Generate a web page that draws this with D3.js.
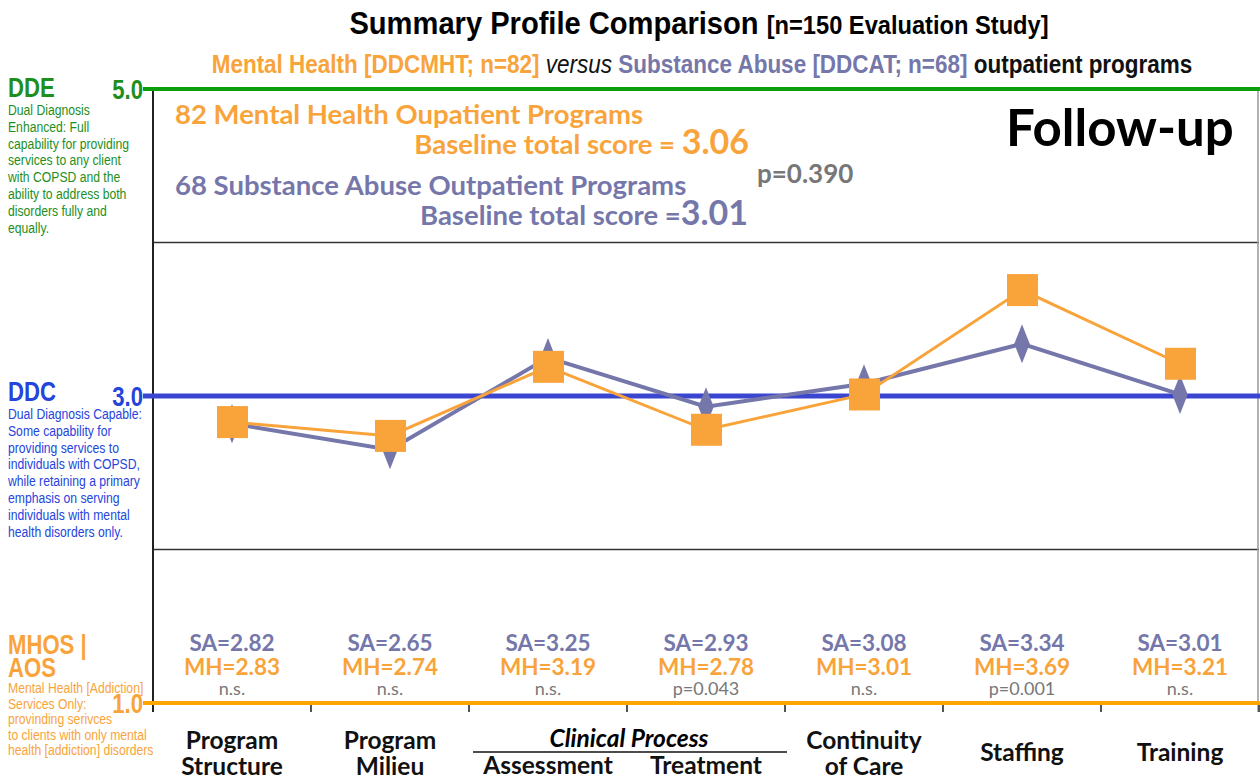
<!DOCTYPE html>
<html>
<head>
<meta charset="utf-8">
<script src="https://cdn.jsdelivr.net/npm/d3@7"></script>
<style>
  body { margin: 0; background: #fff; }
  svg { display: block; }
  .narrow { font-family: "Liberation Sans", Arial, sans-serif; }
  .cal { font-family: Lato, "Open Sans", sans-serif; }
</style>
</head>
<body>
<div id="chart"></div>
<script>
// data
const categories = ["Program Structure", "Program Milieu", "Assessment", "Treatment", "Continuity of Care", "Staffing", "Training"];
const categoryLines = [["Program", "Structure"], ["Program", "Milieu"], ["Assessment"], ["Treatment"], ["Continuity", "of Care"], ["Staffing"], ["Training"]];
const saValues = [2.82, 2.65, 3.25, 2.93, 3.08, 3.34, 3.01];
const mhValues = [2.83, 2.74, 3.19, 2.78, 3.01, 3.69, 3.21];
const pLabels = ["n.s.", "n.s.", "n.s.", "p=0.043", "n.s.", "p=0.001", "n.s."];
const levelTicks = [5, 3, 1];
const levelNames = [["DDE"], ["DDC"], ["MHOS |", "AOS"]];
const levelDescriptions = [
  ["Dual Diagnosis", "Enhanced: Full", "capability for providing", "services to any client", "with COPSD and the", "ability to address both", "disorders fully and", "equally."],
  ["Dual Diagnosis Capable:", "Some capability for", "providing services to", "individuals with COPSD,", "while retaining a primary", "emphasis on serving", "individuals with mental", "health disorders only."],
  ["Mental Health [Addiction]", "Services Only:", "provinding serivces", "to clients with only mental", "health [addiction] disorders"]
];
const gridTicks = [2, 4];

const W = 1260, H = 779;
const orange = "#f9a33b", purple = "#7577aa", grey = "#777";
const levelColors = ["#0a9e0a", "#3a46cf", "#ffa500"];
const levelTextColors = ["#1d8f1d", "#2444dc", "#f9a33b"];

const margin = {top: 89, right: 1, bottom: 76, left: 153};

const svg = d3.select("#chart").append("svg")
  .attr("width", W)
  .attr("height", H);

const x = d3.scaleBand()
  .domain(categories)
  .range([margin.left, W - margin.right]);

const y = d3.scaleLinear()
  .domain([1, 5])
  .range([H - margin.bottom, margin.top]);

const cx = d => x(d) + x.bandwidth() / 2;

// narrow text: horizontally squeezed group (no narrow face installed)
function narrowText(px, py, squeeze) {
  return svg.append("g")
    .attr("transform", "translate(" + px + "," + py + ") scale(" + (squeeze || 0.82) + ",1)")
    .append("text")
    .attr("class", "narrow");
}

// titles
const title = narrowText(699, 34, 0.91)
  .attr("text-anchor", "middle")
  .attr("font-weight", "bold");
title.append("tspan").attr("font-size", 32).text("Summary Profile Comparison ");
title.append("tspan").attr("font-size", 26).text("[n=150 Evaluation Study]");

const sub = narrowText(702, 73, 0.9)
  .attr("text-anchor", "middle")
  .attr("font-size", 25);
sub.append("tspan").attr("fill", orange).attr("font-weight", "bold").text("Mental Health [DDCMHT; n=82] ");
sub.append("tspan").attr("font-style", "italic").attr("fill", "#111").text("versus ");
sub.append("tspan").attr("fill", purple).attr("font-weight", "bold").text("Substance Abuse [DDCAT; n=68] ");
sub.append("tspan").attr("font-weight", "bold").attr("fill", "#111").text("outpatient programs");

// grid lines at 2 and 4
svg.append("g")
  .selectAll("line")
  .data(gridTicks)
  .join("line")
  .attr("x1", margin.left)
  .attr("x2", W - margin.right)
  .attr("y1", d => y(d))
  .attr("y2", d => y(d))
  .attr("stroke", "#333")
  .attr("stroke-width", 1.5);

// right border
svg.append("line")
  .attr("x1", W - 2).attr("x2", W - 2)
  .attr("y1", y(5)).attr("y2", y(1) + 9)
  .attr("stroke", "#999").attr("stroke-width", 1.5);

// y axis line
svg.append("line")
  .attr("x1", margin.left).attr("x2", margin.left)
  .attr("y1", y(5)).attr("y2", y(1) + 9)
  .attr("stroke", "#222").attr("stroke-width", 2);

// category ticks on the bottom axis
svg.append("g")
  .selectAll("line")
  .data(categories)
  .join("line")
  .attr("x1", d => x(d) + x.bandwidth())
  .attr("x2", d => x(d) + x.bandwidth())
  .attr("y1", y(1))
  .attr("y2", y(1) + 9)
  .attr("stroke", "#555")
  .attr("stroke-width", 2);

// coloured level lines
svg.append("g")
  .selectAll("line")
  .data(levelTicks)
  .join("line")
  .attr("x1", margin.left - 10)
  .attr("x2", W)
  .attr("y1", d => y(d))
  .attr("y2", d => y(d))
  .attr("stroke", (d, i) => levelColors[i])
  .attr("stroke-width", (d, i) => i == 1 ? 5 : 4);

// level tick labels
levelTicks.forEach((d, i) => {
  narrowText(margin.left - 10, y(d))
    .attr("dy", "0.36em")
    .attr("text-anchor", "end")
    .attr("font-weight", "bold")
    .attr("font-size", 27)
    .attr("fill", levelTextColors[i])
    .text(d.toFixed(1));
});

// level names + descriptions on the left
const nameY = [97, 401, 654];
const descY = [115, 419, 693];
const descStep = [16.8, 16.8, 15.5];
levelNames.forEach((parts, i) => {
  parts.forEach((part, j) => {
    narrowText(8, nameY[i] + j * 23)
      .attr("font-weight", "bold")
      .attr("font-size", 27)
      .attr("fill", levelTextColors[i])
      .text(part);
  });
  levelDescriptions[i].forEach((t, k) => {
    narrowText(8, descY[i] + k * descStep[i], 0.87)
      .attr("font-size", 14)
      .attr("fill", levelTextColors[i])
      .text(t);
  });
});

// lines
const line = d3.line()
  .x((d, i) => cx(categories[i]))
  .y(d => y(d));

svg.append("path")
  .datum(saValues)
  .attr("d", line)
  .attr("fill", "none")
  .attr("stroke", purple)
  .attr("stroke-width", 4);

svg.append("path")
  .datum(mhValues)
  .attr("d", line)
  .attr("fill", "none")
  .attr("stroke", orange)
  .attr("stroke-width", 3);

// diamonds (SA)
svg.append("g")
  .selectAll("path")
  .data(saValues)
  .join("path")
  .attr("d", d3.symbol(d3.symbolDiamond, 340))
  .attr("transform", (d, i) => "translate(" + cx(categories[i]) + "," + y(d) + ") scale(0.78,1.14)")
  .attr("fill", purple);

// squares (MH)
svg.append("g")
  .selectAll("rect")
  .data(mhValues)
  .join("rect")
  .attr("x", (d, i) => cx(categories[i]) - 15)
  .attr("y", d => y(d) - 16)
  .attr("width", 31)
  .attr("height", 32)
  .attr("fill", orange);

// value labels near the bottom
const vals = svg.append("g").attr("class", "cal").attr("text-anchor", "middle");
vals.selectAll(".sa")
  .data(saValues)
  .join("text")
  .attr("class", "sa")
  .attr("x", (d, i) => cx(categories[i]))
  .attr("y", 651)
  .attr("font-size", 22.5)
  .attr("font-weight", "bold")
  .attr("fill", purple)
  .text(d => "SA=" + d.toFixed(2));
vals.selectAll(".mh")
  .data(mhValues)
  .join("text")
  .attr("class", "mh")
  .attr("x", (d, i) => cx(categories[i]))
  .attr("y", 675)
  .attr("font-size", 22.5)
  .attr("font-weight", "bold")
  .attr("fill", orange)
  .text(d => "MH=" + d.toFixed(2));
vals.selectAll(".p")
  .data(pLabels)
  .join("text")
  .attr("class", "p")
  .attr("x", (d, i) => cx(categories[i]))
  .attr("y", 695)
  .attr("font-size", 18)
  .attr("fill", grey)
  .text(d => d);

// category labels
categoryLines.forEach((lines, i) => {
  const first = lines.length == 2 ? 749 : (i == 2 || i == 3 ? 774 : 761);
  lines.forEach((t, j) => {
    svg.append("text")
      .attr("class", "cal")
      .attr("x", cx(categories[i]))
      .attr("y", first + j * 25.5)
      .attr("text-anchor", "middle")
      .attr("font-size", 24.5)
      .attr("font-weight", "bold")
      .attr("fill", "#111")
      .text(t);
  });
});
svg.append("text")
  .attr("class", "cal")
  .attr("x", (cx("Assessment") + cx("Treatment")) / 2 + 2)
  .attr("y", 747)
  .attr("text-anchor", "middle")
  .attr("font-size", 24.5)
  .attr("font-weight", "bold")
  .attr("font-style", "italic")
  .text("Clinical Process");
svg.append("line")
  .attr("x1", x("Assessment") + 4)
  .attr("x2", x("Treatment") + x.bandwidth() + 2)
  .attr("y1", 752).attr("y2", 752)
  .attr("stroke", "#111").attr("stroke-width", 1.5);

// annotations in the upper area
const ann = svg.append("g").attr("class", "cal").attr("font-weight", "bold");
ann.append("text").attr("x", 175).attr("y", 124).attr("font-size", 27.5).attr("fill", orange)
  .text("82 Mental Health Oupatient Programs");
const b1 = ann.append("text").attr("x", 749).attr("y", 154).attr("text-anchor", "end").attr("fill", orange);
b1.append("tspan").attr("font-size", 27.5).text("Baseline total score = ");
b1.append("tspan").attr("font-size", 34).text("3.06");
ann.append("text").attr("x", 175).attr("y", 195).attr("font-size", 27.5).attr("fill", purple)
  .text("68 Substance Abuse Outpatient Programs");
const b2 = ann.append("text").attr("x", 748).attr("y", 225).attr("text-anchor", "end").attr("fill", purple);
b2.append("tspan").attr("font-size", 27.5).text("Baseline total score =");
b2.append("tspan").attr("font-size", 34).text("3.01");
ann.append("text").attr("x", 757).attr("y", 183).attr("font-size", 26).attr("fill", grey)
  .text("p=0.390");
ann.append("text").attr("x", 1006).attr("y", 146).attr("font-size", 51).attr("fill", "#000")
  .text("Follow-up");
</script>
</body>
</html>
